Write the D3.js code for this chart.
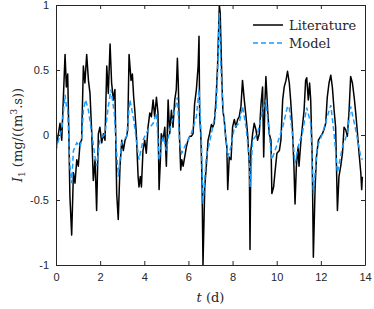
<!DOCTYPE html>
<html>
<head>
<meta charset="utf-8">
<script src="https://cdn.jsdelivr.net/npm/d3@7"></script>
<style>
  body { margin: 0; background: #fff; }
  .tick text { font-family: "Liberation Sans", Arial, sans-serif; font-size: 11px; fill: #262626; }
  .lbl { font-family: "DejaVu Serif", "Liberation Serif", serif; fill: #262626; }
</style>
</head>
<body>
<div id="chart"></div>
<script>
// Literature (black) series, time in days
const litT = [0.00,0.11,0.18,0.26,0.33,0.41,0.47,0.53,0.57,0.63,0.71,0.79,0.86,0.94,1.01,1.09,1.16,1.24,1.31,1.39,1.47,1.54,1.62,1.69,1.77,1.84,1.92,1.99,2.07,2.15,2.22,2.30,2.37,2.45,2.52,2.60,2.67,2.75,2.82,2.90,2.98,3.05,3.13,3.20,3.25,3.31,3.40,3.46,3.52,
  3.57,3.64,3.72,3.76,3.82,3.87,3.94,4.02,4.09,4.17,4.25,4.32,4.40,4.47,4.55,4.62,4.67,4.73,4.77,4.85,4.93,5.00,5.08,5.15,5.23,5.30,5.38,5.45,5.50,5.54,5.60,5.65,5.70,5.76,5.83,5.91,5.98,6.06,6.13,6.21,6.28,6.36,6.44,6.48,6.51,6.56,6.60,6.62,6.66,6.74,6.81,6.89,6.96,7.04,
  7.10,7.17,7.25,7.32,7.40,7.44,7.47,7.52,7.56,7.62,7.70,7.74,7.78,7.85,7.93,8.00,8.08,8.15,8.23,8.30,8.38,8.45,8.53,8.61,8.68,8.76,8.79,8.83,8.91,8.98,9.06,9.13,9.21,9.29,9.36,9.41,9.47,9.51,9.59,9.66,9.74,9.78,9.86,9.92,10.01,10.12,10.19,10.27,10.34,10.42,10.49,10.57,
  10.63,10.71,10.78,10.83,10.89,10.97,11.01,11.09,11.16,11.24,11.31,11.36,11.43,11.49,11.54,11.61,11.66,11.74,11.80,11.89,11.99,12.07,12.14,12.22,12.29,12.37,12.45,12.52,12.60,12.67,12.75,12.82,12.90,12.98,13.05,13.13,13.20,13.28,13.35,13.43,13.51,13.58,13.66,13.73,13.81,13.85,13.88]
const litV = [-0.10,0.01,0.09,-0.04,0.27,0.62,0.37,0.47,0.12,-0.47,-0.77,-0.29,-0.37,-0.19,-0.24,-0.06,-0.04,0.53,0.40,0.62,0.42,0.32,0.01,-0.35,-0.19,-0.58,0.01,0.06,-0.06,0.01,-0.04,0.53,0.32,0.70,0.40,0.27,0.35,-0.45,-0.65,-0.24,-0.04,-0.12,-0.04,-0.01,0.04,0.62,0.42,0.47,0.29,
  0.19,0.01,-0.32,-0.40,-0.32,-0.40,-0.12,-0.04,-0.14,0.06,0.17,0.14,0.27,0.14,0.29,0.17,-0.42,-0.19,0.01,-0.04,0.06,-0.24,0.27,0.01,0.19,0.06,0.27,0.35,0.59,0.40,-0.04,-0.27,-0.19,-0.24,-0.17,-0.09,-0.04,-0.01,-0.01,0.01,0.24,0.35,0.53,0.76,0.14,0.01,-0.24,-0.40,-1.00,-0.40,-0.24,-0.04,0.01,0.08,
  0.06,0.09,0.27,0.53,1.00,0.94,0.73,0.40,0.19,0.12,-0.04,-0.09,-0.42,-0.17,-0.19,0.06,0.12,0.06,0.12,0.14,0.22,0.42,0.27,0.14,0.01,-0.24,-0.88,-0.12,0.01,0.09,0.04,-0.04,0.01,0.24,0.37,-0.17,0.27,0.45,0.19,0.01,-0.04,-0.45,-0.40,-0.29,-0.14,-0.12,-0.04,0.27,0.37,0.42,0.49,0.40,
  0.27,0.06,-0.24,-0.53,-0.24,-0.09,-0.24,-0.06,0.06,0.19,0.42,0.44,0.27,0.40,0.27,-0.19,-0.94,-0.40,-0.17,-0.04,-0.01,0.01,0.04,0.09,0.29,0.40,0.46,0.37,0.19,0.06,-0.58,-0.32,-0.24,-0.14,0.06,0.04,-0.01,0.19,0.45,0.40,0.29,0.17,0.01,-0.14,-0.29,-0.42,-0.32]

// Model (blue dashed) series
const modT = [0.00,0.11,0.26,0.33,0.41,0.47,0.53,0.57,0.63,0.71,0.79,0.94,1.09,1.16,1.24,1.34,1.47,1.62,1.77,1.84,1.99,2.22,2.37,2.49,2.64,2.75,2.82,2.98,3.20,3.35,3.52,
  3.64,3.76,3.94,4.17,4.40,4.55,4.67,4.85,5.00,5.15,5.38,5.50,5.60,5.70,5.91,6.13,6.36,6.48,6.59,6.66,6.81,7.04,
  7.25,7.32,7.40,7.47,7.56,7.70,7.78,7.93,8.08,8.30,8.45,8.61,8.76,8.79,8.91,9.13,9.36,9.51,9.66,9.78,10.04,10.27,10.49,
  10.56,10.71,10.83,11.01,11.16,11.36,11.54,11.66,11.84,12.07,12.29,12.45,12.60,12.75,12.98,13.20,13.35,13.58,13.81,13.88]
const modV = [-0.12,-0.04,0.04,0.17,0.31,0.22,0.19,0.01,-0.24,-0.37,-0.12,-0.06,-0.09,-0.04,0.19,0.27,0.19,0.01,-0.17,-0.24,-0.04,0.01,0.22,0.35,0.17,-0.14,-0.32,-0.06,-0.01,0.27,0.12,
  -0.04,-0.19,-0.04,0.04,0.09,0.17,-0.19,-0.01,-0.12,0.04,0.19,0.29,-0.06,-0.14,-0.06,0.01,0.14,0.35,-0.06,-0.53,-0.17,0.01,
  0.19,0.47,0.94,0.53,0.22,-0.04,-0.17,-0.09,0.06,0.09,0.22,0.06,-0.19,-0.40,-0.04,0.01,0.19,0.27,0.01,-0.19,-0.06,0.06,0.22,
  0.22,0.01,-0.22,-0.06,0.01,0.21,0.09,-0.45,-0.09,0.01,0.14,0.23,0.01,-0.29,-0.09,0.01,0.22,0.04,-0.17,-0.19]

const xTicks = [0, 2, 4, 6, 8, 10, 12, 14]
const yTicks = [-1, -0.5, 0, 0.5, 1]
const seriesNames = ['Literature', 'Model']

const width = 374,
  height = 309
const margin = {left: 56, right: 9, top: 5, bottom: 44}

let svg = d3.select('#chart')
  .append('svg')
  .attr('width', width)
  .attr('height', height)

const x = d3.scaleLinear().domain([0, 14]).range([margin.left, width - margin.right])
const y = d3.scaleLinear().domain([-1, 1]).range([height - margin.bottom, margin.top])

// clip to plot box
svg.append('clipPath').attr('id', 'clip')
  .append('rect')
  .attr('x', x(0)).attr('y', y(1))
  .attr('width', x(14) - x(0)).attr('height', y(-1) - y(1))

const line = d3.line().x(d => x(d[0])).y(d => y(d[1]))

let lit = litT.map((t, i) => [t, litV[i]])
let mod = modT.map((t, i) => [t, modV[i]])

let g = svg.append('g').attr('clip-path', 'url(#clip)')
g.append('path')
  .datum(lit)
  .attr('d', line)
  .attr('fill', 'none')
  .attr('stroke', '#000')
  .attr('stroke-width', 1.5)
  .attr('stroke-linejoin', 'round')

g.append('path')
  .datum(mod)
  .attr('d', line)
  .attr('fill', 'none')
  .attr('stroke', '#1a9cff')
  .attr('stroke-width', 1.5)
  .attr('stroke-dasharray', '5,3')

// axes, ticks inward
const fmtY = d => d === 0 ? '0' : String(d)
let axB = svg.append('g').attr('transform', `translate(0,${y(-1)})`)
  .call(d3.axisBottom(x).tickValues(xTicks).tickSizeInner(-4).tickSizeOuter(0).tickPadding(8))
let axL = svg.append('g').attr('transform', `translate(${x(0)},0)`)
  .call(d3.axisLeft(y).tickValues(yTicks).tickFormat(fmtY).tickSizeInner(-4).tickSizeOuter(0).tickPadding(7))
let axT = svg.append('g').attr('transform', `translate(0,${y(1)})`)
  .call(d3.axisTop(x).tickValues(xTicks).tickSizeInner(-4).tickSizeOuter(0).tickFormat(''))
let axR = svg.append('g').attr('transform', `translate(${x(14)},0)`)
  .call(d3.axisRight(y).tickValues(yTicks).tickSizeInner(-4).tickSizeOuter(0).tickFormat(''))

svg.selectAll('.domain').attr('stroke', '#262626').attr('stroke-width', 1)
svg.selectAll('.tick line').attr('stroke', '#262626')

// axis labels
svg.append('text')
  .attr('class', 'lbl')
  .attr('x', x(7))
  .attr('y', 302)
  .attr('text-anchor', 'middle')
  .attr('font-size', 13)
  .html('<tspan font-style="italic">t</tspan> (d)')

svg.append('text')
  .attr('class', 'lbl')
  .attr('transform', `translate(22,${y(0)}) rotate(-90)`)
  .attr('text-anchor', 'middle')
  .attr('font-size', 13)
  .html('<tspan font-style="italic">I</tspan><tspan font-size="9" dy="3">1</tspan><tspan dy="-3"> (mg/((m</tspan><tspan font-size="9" dy="-5">3</tspan><tspan dy="5">.s))</tspan>')

// legend
const legY = [25, 43]
const legStyle = [{c: '#000', d: null}, {c: '#1a9cff', d: '5,3'}]
seriesNames.forEach((name, i) => {
  svg.append('line')
    .attr('x1', 253).attr('x2', 283)
    .attr('y1', legY[i]).attr('y2', legY[i])
    .attr('stroke', legStyle[i].c)
    .attr('stroke-width', 1.5)
    .attr('stroke-dasharray', legStyle[i].d)
  svg.append('text')
    .attr('class', 'lbl')
    .attr('x', 289)
    .attr('y', legY[i] + 4.5)
    .attr('font-size', 13)
    .text(name)
})
</script>
</body>
</html>
